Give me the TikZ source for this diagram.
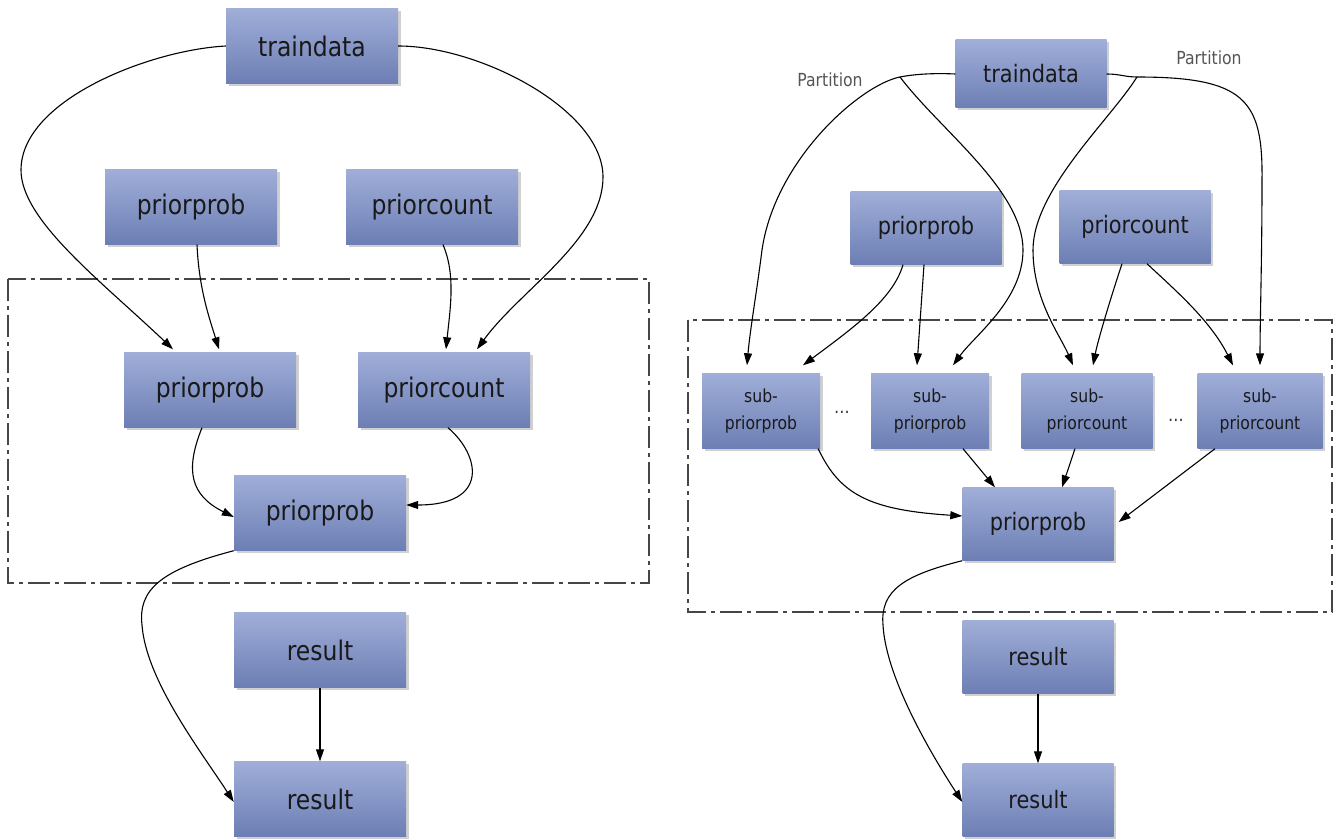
\documentclass[tikz,border=0pt]{standalone}
\usepackage{fontspec}
\setmainfont{DejaVu Sans}[FakeStretch=0.87]
\usetikzlibrary{arrows.meta,shadows}
\definecolor{boxtop}{RGB}{160,174,216}
\definecolor{boxbot}{RGB}{108,126,180}
\definecolor{framegray}{RGB}{70,70,70}
\definecolor{labelgray}{RGB}{85,85,85}
\tikzset{
  box/.style={rectangle, inner sep=0pt, top color=boxtop, bottom color=boxbot,
    draw=none, text=black!90, align=center,
    drop shadow={shadow xshift=2.5pt, shadow yshift=-2.5pt, fill=black!30, opacity=0.6}},
  bigl/.style={box, minimum width=172pt, minimum height=75pt, font=\fontsize{27}{32}\selectfont},
  bigr/.style={box, minimum width=151pt, minimum height=73pt, font=\fontsize{24}{29}\selectfont},
  subbox/.style={box, minimum height=75pt, font=\fontsize{18}{27}\selectfont},
  flow/.style={draw=black, line width=1.1pt, -{Triangle[length=12pt,width=8pt]}},
  link/.style={draw=black, line width=1.1pt},
  frame/.style={draw=framegray, line width=1.2pt, dash pattern=on 22pt off 5pt on 4pt off 5pt},
  tag/.style={text=labelgray, font=\fontsize{18}{22}\selectfont},
  gap/.style={text=black!80, font=\fontsize{18}{22}\selectfont},
}
\begin{document}
\begin{tikzpicture}[x=1pt,y=-1pt]
\path[fill=white] (0,0) rectangle (1335,840);
\useasboundingbox (0,0) rectangle (1335,840);

% group frames
\draw[frame] (8,279) rectangle (649,583);
\draw[frame] (688,320) rectangle (1332,612);

% ---------- left flow ----------
\node[bigl] (ltd)   at (312,46)  {traindata};
\node[bigl] (lpp1)  at (191,207) {priorprob};
\node[bigl] (lpc1)  at (432,207) {priorcount};
\node[bigl] (lpp2)  at (210,390) {priorprob};
\node[bigl] (lpc2)  at (444,390) {priorcount};
\node[bigl] (lpp3)  at (320,513) {priorprob};
\node[bigl] (lres1) at (320,650) {result};
\node[bigl] (lres2) at (320,799) {result};

\draw[flow] (ltd.west) .. controls (150,50) and (21,100) .. (21,170)
  .. controls (21,220) and (100,280) .. ([xshift=-37pt,yshift=3pt]lpp2.north);
\draw[flow] (ltd.east) .. controls (480,46) and (603,110) .. (603,177)
  .. controls (603,240) and (520,290) .. ([xshift=33pt,yshift=3pt]lpc2.north);
\draw[flow] ([xshift=6pt]lpp1.south) .. controls (199,290) and (210,320) .. ([xshift=9pt,yshift=3pt]lpp2.north);
\draw[flow] ([xshift=11pt]lpc1.south) .. controls (456,275) and (450,310) .. ([xshift=2pt,yshift=3pt]lpc2.north);
\draw[flow] ([xshift=-8pt]lpp2.south) .. controls (185,470) and (190,495) .. ([yshift=-4pt]lpp3.west);
\draw[flow] ([xshift=4pt]lpc2.south) .. controls (480,455) and (490,505) .. ([yshift=8pt]lpp3.east);
\draw[flow] (lpp3.south west) .. controls (160,570) and (138,590) .. (142,625)
  .. controls (146,680) and (200,750) .. ([yshift=-3pt]lres2.west);
\draw[flow] (lres1.south) -- (lres2.north);

% ---------- right flow ----------
\node[bigr, minimum height=68pt] (rtd) at (1031,74) {traindata};
\node[bigr] (rpp1) at (926,228)  {priorprob};
\node[bigr] (rpc1) at (1135,227) {priorcount};
\node[subbox, minimum width=118pt] (rs1) at (761,411)  {sub-\\priorprob};
\node[subbox, minimum width=118pt] (rs2) at (930,411)  {sub-\\priorprob};
\node[subbox, minimum width=131pt] (rs3) at (1087,411) {sub-\\priorcount};
\node[subbox, minimum width=125pt] (rs4) at (1260,411) {sub-\\priorcount};
\node[bigr] (rpp2)  at (1038,524) {priorprob};
\node[bigr] (rres1) at (1038,657) {result};
\node[bigr] (rres2) at (1038,800) {result};

\node[tag] (partL) at (830,80) {Partition};
\node[tag] (partR) at (1209,58) {Partition};
\node[gap] (dotsA) at (842,412) {…};
\node[gap] (dotsB) at (1176,420) {…};

% partition branches
\coordinate (jl) at (900,77);
\coordinate (jr) at (1137,77);
\draw[link] (rtd.west) .. controls (935,73) and (915,74) .. (jl);
\draw[flow] (jl) .. controls (860,85) and (775,160) .. (762,250)
  .. controls (757,290) and (750,330) .. ([xshift=-14pt,yshift=8pt]rs1.north);
\draw[flow] (jl) .. controls (940,130) and (1023,190) .. (1023,250)
  .. controls (1023,300) and (975,335) .. ([xshift=23pt,yshift=8pt]rs2.north);
\draw[link] (rtd.east) .. controls (1120,74) and (1125,77) .. (jr);
\draw[flow] (jr) .. controls (1245,77) and (1263,100) .. (1262,180)
  .. controls (1262,260) and (1260,320) .. ([yshift=8pt]rs4.north);
\draw[flow] (jr) .. controls (1110,120) and (1033,190) .. (1033,250)
  .. controls (1033,300) and (1060,335) .. ([xshift=-14pt,yshift=8pt]rs3.north);

% priors into the sub tasks
\draw[flow] ([xshift=-23pt]rpp1.south) .. controls (893,300) and (850,330) .. ([xshift=42pt,yshift=8pt]rs1.north);
\draw[flow] ([xshift=-2pt]rpp1.south) -- ([xshift=-13pt,yshift=8pt]rs2.north);
\draw[flow] ([xshift=-13pt]rpc1.south) .. controls (1110,300) and (1098,340) .. ([xshift=6pt,yshift=8pt]rs3.north);
\draw[flow] ([xshift=12pt]rpc1.south) .. controls (1175,290) and (1210,320) .. ([xshift=-27pt,yshift=8pt]rs4.north);

% merge
\draw[flow] ([xshift=-2pt]rs1.south east) .. controls (840,495) and (870,510) .. ([yshift=8pt]rpp2.west);
\draw[flow] ([xshift=33pt]rs2.south) -- ([xshift=-43pt]rpp2.north);
\draw[flow] ([xshift=-12pt]rs3.south) -- ([xshift=24pt]rpp2.north);
\draw[flow] ([xshift=-45pt]rs4.south) -- ([xshift=5pt,yshift=2pt]rpp2.east);
\draw[flow] (rpp2.south west) .. controls (905,575) and (880,590) .. (883,625)
  .. controls (886,680) and (935,760) .. ([yshift=-2pt]rres2.west);
\draw[flow] (rres1.south) -- (rres2.north);
\end{tikzpicture}
\end{document}
